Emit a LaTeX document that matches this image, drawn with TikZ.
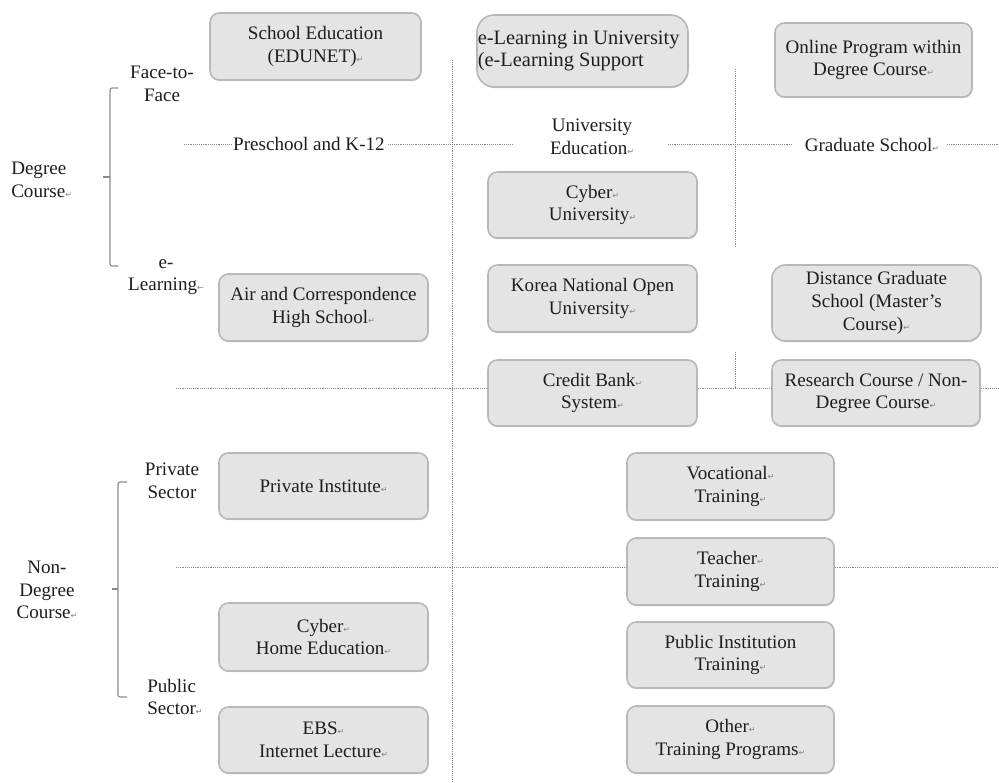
\documentclass[tikz,border=0pt]{standalone}
\usepackage{fontspec}
\setmainfont{Liberation Serif}
\newfontfamily\pmfont{DejaVu Sans}
\usetikzlibrary{shadows}
\definecolor{boxfill}{HTML}{E4E4E4}
\definecolor{boxline}{HTML}{B8B8B8}
\definecolor{txt}{HTML}{1E1E1E}
\definecolor{sep}{HTML}{8A8A8A}
\definecolor{brkcol}{HTML}{8C8C8C}
\newcommand{\parmark}{{\pmfont\fontsize{6}{6}\selectfont\textcolor{gray}{↵}}}
\newcommand{\larrmark}{{\pmfont\fontsize{6}{6}\selectfont\textcolor{gray}{←}}}
\begin{document}
\begin{tikzpicture}[x=0.75pt,y=-0.75pt,
  font=\fontsize{14.3}{17}\selectfont, text=txt,
  box/.style={draw=boxline, fill=boxfill, line width=1.2pt, rounded corners=7pt,
    align=center, inner sep=2pt,
    drop shadow={shadow xshift=0.5pt, shadow yshift=-0.9pt, opacity=0.18, fill=black}},
  sz/.style 2 args={minimum width=#1*0.75pt, minimum height=#2*0.75pt},
  lbl/.style={align=center, inner sep=0pt},
  sepline/.style={draw=sep, line width=0.7pt, dash pattern=on 0.7pt off 0.7pt},
  brk/.style={draw=brkcol, line width=0.8pt, rounded corners=1.5pt}]
\useasboundingbox[fill=white] (0,0) rectangle (999,782);

% separator coordinates
\coordinate (p0) at (184,144);
\coordinate (u1) at (512,144);
\coordinate (u2) at (668,144);
\coordinate (g1) at (792,144);
\coordinate (g2) at (947,144);
\coordinate (pe) at (999,144);
\coordinate (v1t) at (452,60);
\coordinate (v1b) at (452,782);
\coordinate (v2t) at (735,69);
\coordinate (v2b) at (735,248);
\coordinate (v3t) at (735,352);
\coordinate (v3b) at (735,388);
\coordinate (h1a) at (176,388);
\coordinate (h1e) at (999,388);
\coordinate (h2a) at (176,567);
\coordinate (h2e) at (999,567);

% labels
\node[lbl] (f2f) at (162,84) {Face-to-\\Face};
\node[lbl, align=left, anchor=west] (degree) at (11,180) {Degree\\Course\parmark};
\node[lbl] (elearn) at (166,277) {e-\\Learning\larrmark};
\node[lbl] (privs) at (172,481) {Private\\Sector};
\node[lbl, align=center] (nondeg) at (47,590) {Non-\\Degree\\Course\parmark};
\node[lbl, align=left, anchor=west] (pubs) at (147,697) {Public\\Sector\parmark};
\node[lbl, inner xsep=1pt] (presch) at (310,144) {Preschool and K-12{\pmfont\fontsize{5}{5}\selectfont\textcolor{gray}{·}}};
\node[lbl] (unived) at (592,137) {University\\Education\parmark};
\node[lbl] (grad) at (872,145) {Graduate School\parmark};

% separators
\draw[sepline] (p0) -- (presch.west);
\draw[sepline] (presch.east) -- (u1);
\draw[sepline] (u2) -- (g1);
\draw[sepline] (g2) -- (pe);
\draw[sepline] (v1t) -- (v1b);
\draw[sepline] (v2t) -- (v2b);
\draw[sepline] (v3t) -- (v3b);

% boxes
\node[box, sz={211}{67}] (school) at (315.5,46.5) {School Education\\(EDUNET)\parmark};
\node[box, sz={211}{72}, rounded corners=13pt] (elu) at (582.5,51) {};
\node[lbl, anchor=west, align=left, inner sep=1pt, font=\fontsize{15.3}{17}\selectfont] (elut) at (elu.west) {e-Learning in University\\(e-Learning Support};
\node[box, sz={197}{74}] (online) at (873.5,60) {Online Program within\\Degree Course\parmark};
\node[box, sz={209}{66}] (cyberu) at (592.5,205) {Cyber\parmark\\University\parmark};
\node[box, sz={209}{67}] (air) at (323.5,307.5) {Air and Correspondence\\High School\parmark};
\node[box, sz={209}{67}] (knou) at (592.5,298.5) {Korea National Open\\University\parmark};
\node[box, sz={209}{76}, rounded corners=10pt] (dist) at (876.5,303) {Distance Graduate\\School (Master’s\\Course)\parmark};
\node[box, sz={209}{66}] (credit) at (592.5,393) {Credit Bank\parmark\\System\parmark};
\node[box, sz={208}{66}] (research) at (876,393) {Research Course / Non-\\Degree Course\parmark};
\node[box, sz={209}{66}] (private) at (323.5,486) {Private Institute\parmark};
\node[box, sz={207}{67}] (voc) at (730.5,486.5) {Vocational\parmark\\Training\parmark};
\node[box, sz={207}{67}] (teacher) at (730.5,571.5) {Teacher\parmark\\Training\parmark};
\node[box, sz={207}{66}] (pubinst) at (730.5,655) {Public Institution\\Training\parmark};
\node[box, sz={207}{67}] (other) at (730.5,739.5) {Other\parmark\\Training Programs\parmark};
\node[box, sz={209}{68}] (cyberhome) at (323.5,637) {Cyber\parmark\\Home Education\parmark};
\node[box, sz={209}{66}] (ebs) at (323.5,740) {EBS\parmark\\Internet Lecture\parmark};

% separators touching boxes
\draw[sepline] (h1a) -- (h1a -| credit.west);
\draw[sepline] (h1a -| credit.east) -- (h1a -| research.west);
\draw[sepline] (h1a -| research.east) -- (h1e);
\draw[sepline] (h2a) -- (h2a -| teacher.west);
\draw[sepline] (h2a -| teacher.east) -- (h2e);

% brackets
\draw[brk] (118,88) -- (110,88) -- (110,266) -- (118,266);
\draw[brk] (103,177) -- (110,177);
\draw[brk] (127,482) -- (118,482) -- (118,697) -- (127,697);
\draw[brk] (112,589) -- (118,589);
\end{tikzpicture}
\end{document}
